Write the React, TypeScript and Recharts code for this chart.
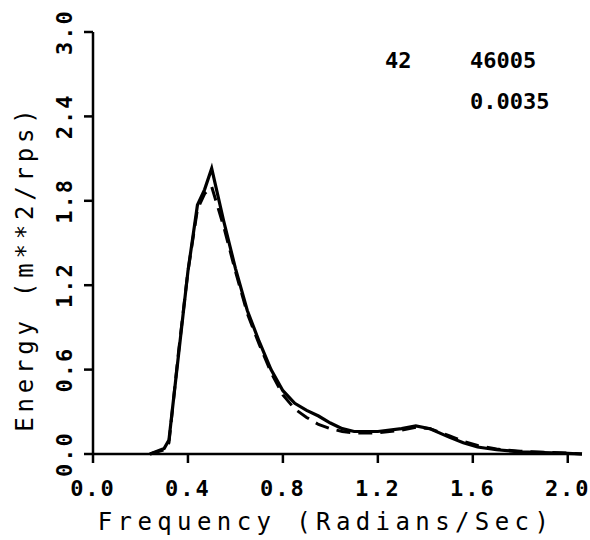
import { LineChart, Line, XAxis, YAxis, Customized } from "recharts";

const freq = [0.24, 0.3, 0.32, 0.36, 0.4, 0.44, 0.47, 0.5, 0.55, 0.6, 0.65, 0.7, 0.75, 0.8, 0.85, 0.9, 0.95, 1.0, 1.05, 1.1, 1.2, 1.3, 1.36, 1.42, 1.5, 1.56, 1.62, 1.7, 1.8, 1.9, 2.0, 2.06];
const measured = [0, 0.04, 0.1, 0.7, 1.3, 1.77, 1.88, 2.03, 1.66, 1.32, 1.02, 0.8, 0.6, 0.45, 0.36, 0.31, 0.27, 0.22, 0.18, 0.16, 0.16, 0.18, 0.2, 0.18, 0.12, 0.08, 0.05, 0.03, 0.015, 0.01, 0.005, 0];
const fitted = [0, 0.03, 0.08, 0.72, 1.3, 1.74, 1.85, 1.9, 1.62, 1.3, 1.0, 0.78, 0.58, 0.42, 0.32, 0.26, 0.21, 0.18, 0.16, 0.15, 0.15, 0.17, 0.19, 0.18, 0.13, 0.09, 0.06, 0.035, 0.02, 0.012, 0.006, 0];
const xTicks = [0, 0.4, 0.8, 1.2, 1.6, 2.0];
const yTicks = [0, 0.6, 1.2, 1.8, 2.4, 3.0];
const notes = ["42", "46005", "0.0035"];
const xTitle = "Frequency (Radians/Sec)";
const yTitle = "Energy (m**2/rps)";

const data = freq.map((f, i) => ({ f, measured: measured[i], fitted: fitted[i] }));

const font = "'DejaVu Sans Mono', monospace";

const XTick = ({ x, y, payload }: any) => (
  <text x={x} y={y + 31} textAnchor="middle" fontFamily={font} fontWeight="bold" fontSize={22} letterSpacing={2} fill="#000">
    {payload.value.toFixed(1)}
  </text>
);

// rotated label: baseline sits just left of the tick marks
const YTick = ({ y, payload }: any) => (
  <text
    x={0}
    y={0}
    transform={`translate(72,${y}) rotate(-90)`}
    textAnchor="middle"
    fontFamily={font}
    fontWeight="bold"
    fontSize={22}
    letterSpacing={2}
    fill="#000"
  >
    {payload.value.toFixed(1)}
  </text>
);

const Labels = () => (
  <g fontFamily={font} fill="#000">
    <g fontWeight="bold" fontSize={22}>
      <text x={385} y={68}>{notes[0]}</text>
      <text x={470} y={68}>{notes[1]}</text>
      <text x={470} y={109}>{notes[2]}</text>
    </g>
    <text x={326} y={530} textAnchor="middle" fontSize={24} letterSpacing={5.4}>{xTitle}</text>
    <text x={0} y={0} transform="translate(33,268) rotate(-90)" textAnchor="middle" fontSize={24} letterSpacing={4.8}>{yTitle}</text>
  </g>
);

export default function App() {
  return (
    <div style={{ position: "absolute", left: 0, top: 0, background: "#fff" }}>
      <LineChart width={590} height={540} data={data} margin={{ top: 32, right: 8, bottom: 0, left: 0 }}>
        <XAxis
          dataKey="f"
          type="number"
          domain={[0, 2.06]}
          ticks={xTicks}
          tick={<XTick />}
          tickSize={9}
          height={86}
          stroke="#000"
          strokeWidth={2.5}
        />
        <YAxis
          type="number"
          domain={[0, 3]}
          ticks={yTicks}
          tick={<YTick />}
          tickSize={9}
          width={93}
          stroke="#000"
          strokeWidth={2.5}
        />
        <Line type="linear" dataKey="fitted" stroke="#000" strokeWidth={3} strokeDasharray="14 8" dot={false} isAnimationActive={false} />
        <Line type="linear" dataKey="measured" stroke="#000" strokeWidth={3.2} dot={false} isAnimationActive={false} />
        <Customized component={Labels} />
      </LineChart>
    </div>
  );
}
